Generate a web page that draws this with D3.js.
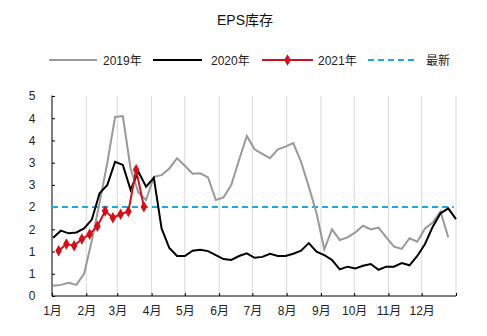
<!DOCTYPE html>
<html><head><meta charset="utf-8">
<script src="https://cdn.jsdelivr.net/npm/d3@7"></script>
<style>
html,body{margin:0;padding:0;background:#fff;}
text{font-family:"Liberation Sans","Noto Sans CJK SC",sans-serif;}
</style></head>
<body><svg id="c" width="487" height="336"></svg>
<script>
// ---- data ----
const title = "EPS库存";
const monthLabels = ["1月","2月","3月","4月","5月","6月","7月","8月","9月","10月","11月","12月"];
const monthStartDays = [0,31,59,90,120,151,181,212,243,273,304,334,365];
const yTicks = [0,0.5,1,1.5,2,2.5,3,3.5,4,4.5];
const yTickLabels = ["0","1","1","2","2","3","3","4","4","5"];
const seriesNames = ["2019年","2020年","2021年","最新"];

const days2019 = [1,8,15,22,29,36,43,50,57,64,71,78,85,92,99,106,113,120,127,134,141,148,155,162,169,176,183,190,197,204,211,218,225,232,239,246,253,260,267,274,281,288,295,302,309,316,323,330,337,344,351,358];
const values2019 = [0.23,0.25,0.30,0.25,0.50,1.25,2.10,3.00,4.03,4.05,2.87,2.33,2.16,2.68,2.72,2.87,3.10,2.93,2.75,2.76,2.67,2.16,2.22,2.50,3.06,3.60,3.30,3.20,3.10,3.30,3.36,3.44,3.02,2.46,1.86,1.05,1.50,1.26,1.32,1.43,1.58,1.50,1.54,1.32,1.11,1.06,1.30,1.22,1.52,1.65,1.90,1.32];

const days2020 = [1,8,15,22,29,36,43,50,57,64,71,78,85,92,99,106,113,120,127,134,141,148,155,162,169,176,183,190,197,204,211,218,225,232,239,246,253,260,267,274,281,288,295,302,309,316,323,330,337,344,351,358,365];
const values2020 = [1.31,1.47,1.41,1.43,1.52,1.72,2.31,2.50,3.02,2.95,2.39,2.80,2.46,2.66,1.52,1.08,0.90,0.90,1.02,1.04,1.01,0.92,0.83,0.81,0.90,0.96,0.86,0.88,0.95,0.90,0.90,0.95,1.02,1.19,1.00,0.92,0.81,0.60,0.66,0.62,0.68,0.72,0.59,0.66,0.66,0.74,0.69,0.90,1.17,1.56,1.86,1.97,1.73];

const days2021 = [6,13,20,27,34,41,48,55,62,69,76,83];
const values2021 = [1.02,1.17,1.13,1.28,1.39,1.57,1.91,1.76,1.84,1.90,2.84,2.01];

const latestValue = 2.0;
const latestDays = [0,363];

// ---- drawing ----
const svg = d3.select("#c");
const m = {left:52, right:456, top:96, bottom:296};
const x = d3.scaleLinear().domain([0,365]).range([m.left,m.right]);
const y = d3.scaleLinear().domain([0,4.5]).range([m.bottom,m.top]);

svg.append("text").attr("x",245).attr("y",25).attr("text-anchor","middle")
  .attr("font-size",14).attr("fill","#111").text(title);

// vertical gridlines
svg.append("g").selectAll("line").data(monthStartDays.slice(1)).join("line")
  .attr("x1",d=>x(d)).attr("x2",d=>x(d)).attr("y1",m.top).attr("y2",m.bottom)
  .attr("stroke","#d9d9d9").attr("stroke-width",1);

// y axis
const yAxis = d3.axisLeft(y).tickValues(yTicks).tickSize(-3).tickPadding(20)
  .tickFormat((d,i)=>yTickLabels[i]);
const gy = svg.append("g").attr("transform",`translate(${m.left},0)`).call(yAxis);
gy.select(".domain").attr("stroke","#000").attr("d",`M0,${m.bottom}V${m.top-0.5}`);
gy.selectAll(".tick line").attr("stroke","#000");
gy.selectAll("text").attr("font-size",12).attr("fill","#222").attr("text-anchor","middle");

// x axis
const xAxis = d3.axisBottom(x).tickValues(monthStartDays).tickSize(-3).tickPadding(10)
  .tickFormat((d,i)=>monthLabels[i]||"");
const gx = svg.append("g").attr("transform",`translate(0,${m.bottom})`).call(xAxis);
gx.select(".domain").attr("stroke","#000").attr("d",`M${m.left},0H${m.right}`);
gx.selectAll(".tick line").attr("stroke","#000");
gx.selectAll("text").attr("font-size",12).attr("fill","#222");

const line = d3.line().x(d=>x(d[0])).y(d=>y(d[1]));
const zip = (a,b)=>a.map((d,i)=>[d,b[i]]);

// latest dashed
svg.append("path").datum(latestDays.map(d=>[d,latestValue])).attr("d",line)
  .attr("fill","none").attr("stroke","#1fa9e1").attr("stroke-width",2).attr("stroke-dasharray","6,4");

svg.append("path").datum(zip(days2019,values2019)).attr("d",line)
  .attr("fill","none").attr("stroke","#999999").attr("stroke-width",2);
svg.append("path").datum(zip(days2020,values2020)).attr("d",line)
  .attr("fill","none").attr("stroke","#000").attr("stroke-width",2);
svg.append("path").datum(zip(days2021,values2021)).attr("d",line)
  .attr("fill","none").attr("stroke","#d0111b").attr("stroke-width",2);
const diamond = d3.symbol().type(d3.symbolDiamond).size(38);
svg.append("g").selectAll("path").data(zip(days2021,values2021)).join("path")
  .attr("d",diamond).attr("transform",d=>`translate(${x(d[0])},${y(d[1])})`)
  .attr("fill","#d0111b");

// legend
const lg = svg.append("g").attr("font-size",12);
const legendItems = [
  {name:seriesNames[0], x1:49, x2:97, tx:103, color:"#999999", dash:null, marker:false},
  {name:seriesNames[1], x1:153, x2:202, tx:211, color:"#000", dash:null, marker:false},
  {name:seriesNames[2], x1:262, x2:313, tx:318, color:"#d0111b", dash:null, marker:true},
  {name:seriesNames[3], x1:368, x2:418, tx:426, color:"#1fa9e1", dash:"6,4", marker:false}
];
const ly = 60;
legendItems.forEach(it=>{
  lg.append("line").attr("x1",it.x1).attr("x2",it.x2).attr("y1",ly).attr("y2",ly)
    .attr("stroke",it.color).attr("stroke-width",2).attr("stroke-dasharray",it.dash);
  if(it.marker) lg.append("path").attr("d",diamond).attr("transform",`translate(${(it.x1+it.x2)/2},${ly})`).attr("fill",it.color);
  lg.append("text").attr("x",it.tx).attr("y",ly+4.5).attr("fill","#222").text(it.name);
});
</script></body></html>
